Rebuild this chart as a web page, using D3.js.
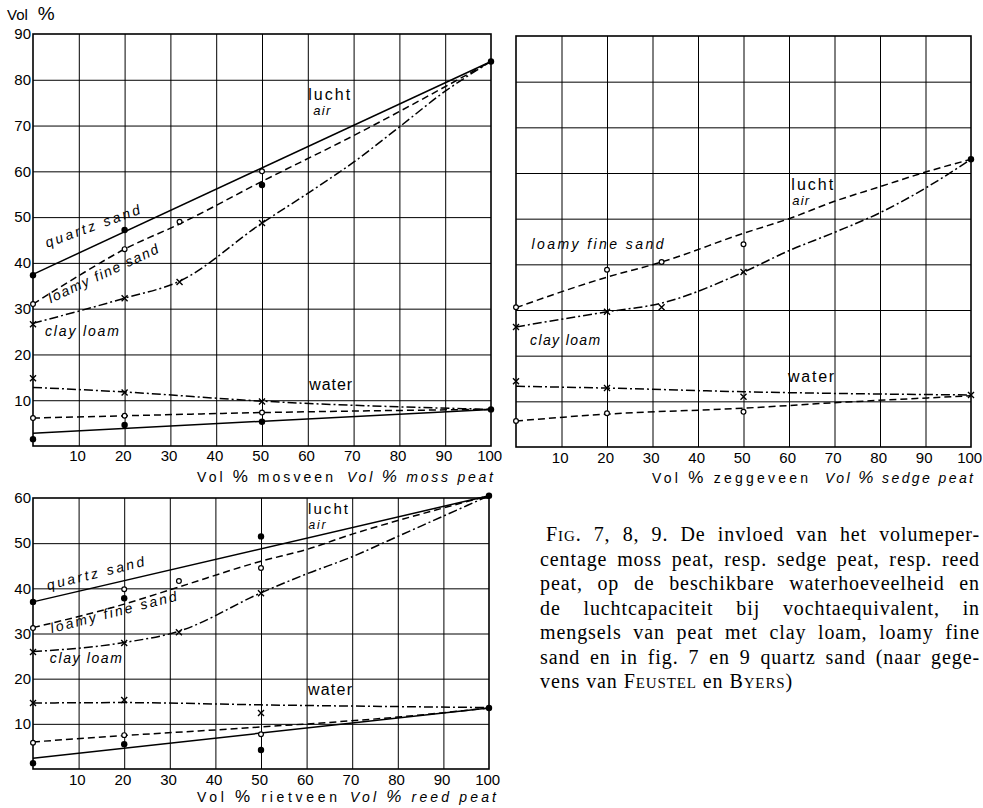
<!DOCTYPE html>
<html>
<head>
<meta charset="utf-8">
<script src="https://cdn.jsdelivr.net/npm/d3@7"></script>
<style>
  body { margin: 0; background: #fff; }
  svg { display: block; }
</style>
</head>
<body>
<svg id="fig" width="983" height="808"></svg>
<script>
// Tick values
const xTicks = [10, 20, 30, 40, 50, 60, 70, 80, 90, 100];
const yTicks90 = [10, 20, 30, 40, 50, 60, 70, 80, 90];
const yTicks60 = [10, 20, 30, 40, 50, 60];

// Fig. 7 - moss peat
const mossAirQuartz = [[0, 37.5], [100, 84]];
const mossAirLoamy = [[0, 31], [10, 37.2], [20, 43], [32, 48.5], [50, 57.8], [70, 67.8], [100, 84]];
const mossAirClay = [[0, 26.8], [20, 32.3], [32, 36], [50, 48.7], [60, 55.2], [70, 62], [80, 69.7], [90, 77.5], [100, 84]];
const mossWaterQuartz = [[0, 2.8], [100, 8]];
const mossWaterLoamy = [[0, 6.1], [20, 6.6], [50, 7.3], [100, 8]];
const mossWaterClay = [[0, 12.8], [20, 11.8], [50, 9.8], [100, 8]];
const mossDots = [[0, 37.3], [20, 47.2], [50, 57], [100, 84], [0, 1.5], [20, 4.6], [50, 5.3], [100, 8]];
const mossCircles = [[0, 31], [20, 43], [32, 49], [50, 60], [0, 6.1], [20, 6.6], [50, 7.3]];
const mossCrosses = [[0, 26.6], [20, 32.3], [32, 35.8], [50, 48.7], [0, 14.8], [20, 11.7], [50, 9.7]];

// Fig. 8 - sedge peat
const sedgeAirLoamy = [[0, 30.5], [20, 37.2], [32, 40.5], [50, 46.8], [60, 50], [70, 53.8], [80, 57], [90, 60.2], [100, 63]];
const sedgeAirClay = [[0, 26.3], [20, 29.6], [32, 31.5], [50, 38.3], [60, 43], [70, 47], [80, 51.3], [90, 56.7], [100, 63]];
const sedgeWaterLoamy = [[0, 5.7], [20, 7.2], [50, 8.5], [70, 9.7], [100, 11.2]];
const sedgeWaterClay = [[0, 13.3], [20, 12.9], [50, 12.1], [80, 11.6], [100, 11.4]];
const sedgeDots = [[100, 63]];
const sedgeCircles = [[0, 30.6], [20, 38.8], [32, 40.5], [50, 44.4], [0, 5.7], [20, 7.4], [50, 7.7]];
const sedgeCrosses = [[0, 26.3], [20, 29.6], [32, 30.6], [50, 38.3], [0, 14.4], [20, 12.9], [50, 11], [100, 11.4]];

// Fig. 9 - reed peat
const reedAirQuartz = [[0, 37], [100, 60.5]];
const reedAirLoamy = [[0, 31.3], [20, 36.5], [32, 40.3], [50, 46], [60, 48.6], [70, 52], [80, 55], [90, 57.8], [100, 60.5]];
const reedAirClay = [[0, 26], [20, 28], [32, 30.5], [50, 39], [60, 43.2], [70, 47], [80, 51.5], [90, 56], [100, 60.5]];
const reedWaterQuartz = [[0, 2.4], [100, 13.5]];
const reedWaterLoamy = [[0, 6], [20, 7.4], [50, 9.3], [80, 11.5], [100, 13.5]];
const reedWaterClay = [[0, 14.6], [20, 14.7], [50, 14.2], [100, 13.6]];
const reedDots = [[0, 37], [20, 37.8], [50, 51.5], [100, 60.5], [0, 1.3], [20, 5.5], [50, 4.2], [100, 13.5]];
const reedCircles = [[0, 31.2], [20, 39.8], [32, 41.6], [50, 44.5], [0, 5.8], [20, 7.5], [50, 7.7]];
const reedCrosses = [[0, 25.9], [20, 27.9], [32, 30.3], [50, 38.9], [0, 14.6], [20, 15.3], [50, 12.4]];

// Caption lines (text, font size)
const captionLines = [
  [["F", 20], ["IG", 15], [". 7, 8, 9. De invloed van het volumeper-", 20]],
  [["centage moss peat, resp. sedge peat, resp. reed", 20]],
  [["peat, op de beschikbare waterhoeveelheid en", 20]],
  [["de luchtcapaciteit bij vochtaequivalent, in", 20]],
  [["mengsels van peat met clay loam, loamy fine", 20]],
  [["sand en in fig. 7 en 9 quartz sand (naar gege-", 20]],
  [["vens van ", 20], ["F", 20], ["EUSTEL", 15], [" en ", 20], ["B", 20], ["YERS", 15], [")", 20]]
];

const SOLID = null, DASH = "7,4", DASHDOT = "9,3,2,3";

const panels = [
  {
    x0: 33, x1: 491, yTop: 34, yBot: 446, yMax: 90, yTicks: yTicks90, tickPad: 4.5,
    title: [["Vol", "mosveen", 197, 136], ["Vol", "moss peat", 347, 146]], titleY: 482,
    lines: [[mossAirQuartz, SOLID], [mossAirLoamy, DASH], [mossAirClay, DASHDOT],
            [mossWaterQuartz, SOLID], [mossWaterLoamy, DASH], [mossWaterClay, DASHDOT]],
    dots: mossDots, circles: mossCircles, crosses: mossCrosses,
    labels: [
      { t: "lucht", x: 60.1, y: 75.5, size: 16, len: 42 },
      { t: "air", x: 61.2, y: 72.4, size: 13, it: true, len: 17 },
      { t: "quartz sand", x: 3.1, y: 43.3, size: 14, it: true, rot: -20, len: 100 },
      { t: "loamy fine sand", x: 3.9, y: 31.2, size: 14, it: true, rot: -25, len: 120 },
      { t: "clay loam", x: 2.6, y: 24.0, size: 14, it: true, len: 74 },
      { t: "water", x: 60.3, y: 12.2, size: 16, len: 43 }
    ]
  },
  {
    x0: 516, x1: 971, yTop: 36, yBot: 447, yMax: 90, yTicks: null, tickPad: 5.5,
    title: [["Vol", "zeggeveen", 652, 156], ["Vol", "sedge peat", 825, 148]], titleY: 483,
    lines: [[sedgeAirLoamy, DASH], [sedgeAirClay, DASHDOT],
            [sedgeWaterLoamy, DASH], [sedgeWaterClay, DASHDOT]],
    dots: sedgeDots, circles: sedgeCircles, crosses: sedgeCrosses,
    labels: [
      { t: "lucht", x: 60.5, y: 56.2, size: 16, len: 42 },
      { t: "air", x: 60.7, y: 53.0, size: 13, it: true, len: 17 },
      { t: "loamy fine sand", x: 3.4, y: 43.3, size: 14, it: true, len: 132 },
      { t: "clay loam", x: 3.1, y: 22.4, size: 14, it: true, len: 70 },
      { t: "water", x: 59.8, y: 14.2, size: 16, len: 46 }
    ]
  },
  {
    x0: 33, x1: 489, yTop: 498, yBot: 769, yMax: 60, yTicks: yTicks60, tickPad: 5,
    title: [["Vol", "rietveen", 197, 140], ["Vol", "reed peat", 350, 146]], titleY: 802,
    lines: [[reedAirQuartz, SOLID], [reedAirLoamy, DASH], [reedAirClay, DASHDOT],
            [reedWaterQuartz, SOLID], [reedWaterLoamy, DASH], [reedWaterClay, DASHDOT]],
    dots: reedDots, circles: reedCircles, crosses: reedCrosses,
    labels: [
      { t: "lucht", x: 60.3, y: 56.5, size: 15, len: 40 },
      { t: "air", x: 60.4, y: 53.2, size: 12, it: true, len: 17 },
      { t: "quartz sand", x: 3.3, y: 39.6, size: 14, it: true, rot: -14, len: 100 },
      { t: "loamy fine sand", x: 4.1, y: 30.1, size: 14, it: true, rot: -14.5, len: 130 },
      { t: "clay loam", x: 3.7, y: 23.4, size: 14, it: true, len: 72 },
      { t: "water", x: 60.3, y: 16.4, size: 16, len: 44 }
    ]
  }
];

const svg = d3.select("#fig");
const FONT = "'Liberation Sans', Arial, sans-serif";

svg.append("rect").attr("width", 983).attr("height", 808).attr("fill", "#fff");

// y-axis unit label
const unit = svg.append("text")
  .attr("x", 7).attr("y", 20)
  .attr("font-family", FONT).attr("font-size", 15);
unit.append("tspan").text("Vol");
unit.append("tspan").attr("dx", 10).attr("font-size", 19).text("%");

panels.forEach(function (p) {
  const x = d3.scaleLinear().domain([0, 100]).range([p.x0, p.x1]);
  const y = d3.scaleLinear().domain([0, p.yMax]).range([p.yBot, p.yTop]);
  const g = svg.append("g");

  // Grid
  g.append("g")
    .attr("transform", "translate(0," + p.yBot + ")")
    .call(d3.axisBottom(x).tickValues(xTicks.slice(0, -1)).tickSize(-(p.yBot - p.yTop)).tickFormat(""))
    .call(s => s.select(".domain").remove())
    .selectAll("line").attr("stroke", "#000").attr("stroke-width", 1);
  g.append("g")
    .attr("transform", "translate(" + p.x0 + ",0)")
    .call(d3.axisLeft(y).tickValues(d3.range(10, p.yMax, 10)).tickSize(-(p.x1 - p.x0)).tickFormat(""))
    .call(s => s.select(".domain").remove())
    .selectAll("line").attr("stroke", "#000").attr("stroke-width", 1);

  // Frame
  g.append("rect")
    .attr("x", p.x0).attr("y", p.yTop)
    .attr("width", p.x1 - p.x0).attr("height", p.yBot - p.yTop)
    .attr("fill", "none").attr("stroke", "#000").attr("stroke-width", 1.6);

  // Tick labels
  const xa = g.append("g")
    .attr("transform", "translate(0," + p.yBot + ")")
    .call(d3.axisBottom(x).tickValues(xTicks).tickSize(0).tickPadding(p.tickPad));
  xa.select(".domain").remove();
  xa.selectAll("text").attr("font-family", FONT).attr("font-size", 15).attr("fill", "#000").attr("dx", "-0.12em");

  if (p.yTicks) {
    const ya = g.append("g")
      .attr("transform", "translate(" + p.x0 + ",0)")
      .call(d3.axisLeft(y).tickValues(p.yTicks).tickSize(0).tickPadding(2));
    ya.select(".domain").remove();
    ya.selectAll("text").attr("font-family", FONT).attr("font-size", 15).attr("fill", "#000");
  }

  // Axis title: "Vol % <peat>" upright, then italic English
  p.title.forEach(function (t, i) {
    const tt = g.append("text")
      .attr("x", t[2]).attr("y", p.titleY)
      .attr("font-family", FONT).attr("font-size", 14)
      .attr("font-style", i === 1 ? "italic" : "normal")
      .attr("textLength", t[3]).attr("lengthAdjust", "spacing");
    tt.append("tspan").text(t[0] + " ");
    tt.append("tspan").attr("font-size", 17).text("%");
    tt.append("tspan").text(" " + t[1]);
  });

  // Curves
  const line = d3.line().x(d => x(d[0])).y(d => y(d[1])).curve(d3.curveMonotoneX);
  p.lines.forEach(function (l) {
    g.append("path")
      .attr("d", line(l[0]))
      .attr("fill", "none").attr("stroke", "#000").attr("stroke-width", 1.5)
      .attr("stroke-dasharray", l[1]);
  });

  // Markers
  g.selectAll(".dot").data(p.dots).enter().append("circle")
    .attr("cx", d => x(d[0])).attr("cy", d => y(d[1])).attr("r", 3.2).attr("fill", "#000");
  g.selectAll(".open").data(p.circles).enter().append("circle")
    .attr("cx", d => x(d[0])).attr("cy", d => y(d[1])).attr("r", 2.4)
    .attr("fill", "#fff").attr("stroke", "#000").attr("stroke-width", 1.2);
  g.selectAll(".cross").data(p.crosses).enter().append("path")
    .attr("d", d => {
      const cx = x(d[0]), cy = y(d[1]), s = 3;
      return "M" + (cx - s) + "," + (cy - s) + "L" + (cx + s) + "," + (cy + s) +
             "M" + (cx + s) + "," + (cy - s) + "L" + (cx - s) + "," + (cy + s);
    })
    .attr("stroke", "#000").attr("stroke-width", 1.4);

  // Annotations
  p.labels.forEach(function (lb) {
    const tx = x(lb.x), ty = y(lb.y);
    const t = g.append("text")
      .attr("x", tx).attr("y", ty)
      .attr("font-family", FONT).attr("font-size", lb.size)
      .attr("font-style", lb.it ? "italic" : "normal")
      .text(lb.t);
    if (lb.rot) t.attr("transform", "rotate(" + lb.rot + "," + tx + "," + ty + ")");
    if (lb.len) t.attr("textLength", lb.len).attr("lengthAdjust", "spacing");
  });
});

// Caption, justified between left and right edges
const capLeft = 540, capRight = 980, capTop = 541, capStep = 24.5;
captionLines.forEach(function (parts, i) {
  const left = i === 0 ? 546 : capLeft;
  const t = svg.append("text")
    .attr("x", left).attr("y", capTop + i * capStep)
    .attr("font-family", "'Liberation Serif', 'Times New Roman', serif")
    .attr("letter-spacing", 0.9);
  parts.forEach(function (pt) {
    t.append("tspan").attr("font-size", pt[1]).text(pt[0]);
  });
  if (i < captionLines.length - 1) {
    const natural = t.node().getComputedTextLength();
    const spaces = parts.map(pt => pt[0]).join("").split(" ").length - 1;
    t.attr("word-spacing", Math.max(0, (capRight - left - natural) / spaces));
  }
});
</script>
</body>
</html>
